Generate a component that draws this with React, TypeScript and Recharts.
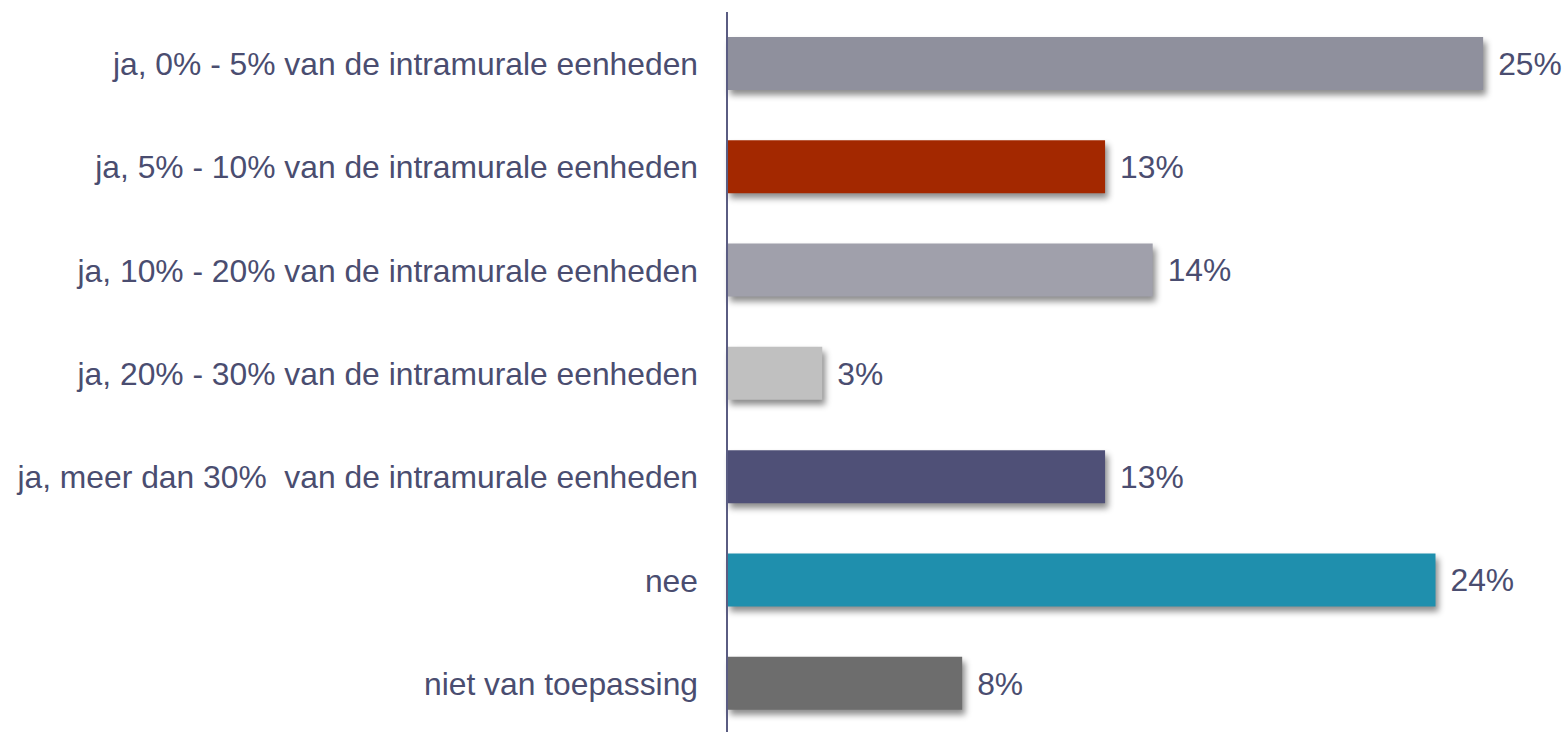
import React from 'react';
import { BarChart, Bar, XAxis, YAxis, Cell, LabelList } from 'recharts';

const categories = [
  'ja, 0% - 5% van de intramurale eenheden',
  'ja, 5% - 10% van de intramurale eenheden',
  'ja, 10% - 20% van de intramurale eenheden',
  'ja, 20% - 30% van de intramurale eenheden',
  'ja, meer dan 30%  van de intramurale eenheden',
  'nee',
  'niet van toepassing',
];
const values = [25.4, 12.7, 14.3, 3.2, 12.7, 23.8, 7.9];
const valueLabels = ['25%', '13%', '14%', '3%', '13%', '24%', '8%'];
const colors = ['#8F909D', '#A32800', '#A0A0AB', '#C0C0C0', '#4F5077', '#1F8FAD', '#6D6D6D'];

const data = categories.map((c, i) => ({ name: c, value: values[i], label: valueLabels[i] }));

const TEXT = '#4A4D70';
const SHADOW = 'drop-shadow(3px 5px 3px rgba(0,0,0,0.45))';

const CatTick = (props: any) => {
  const { x, y, payload } = props;
  return (
    <text
      x={x - 21}
      y={y}
      dy={11.5}
      textAnchor="end"
      fill={TEXT}
      fontSize={31.8}
      fontFamily="'Liberation Sans', Arial, sans-serif"
      style={{ whiteSpace: 'pre' }}
    >
      {payload.value}
    </text>
  );
};

export default function App() {
  return (
    <div style={{ width: 1567, height: 732, overflow: 'hidden' }}>
      <style>{'html,body{margin:0;padding:0;overflow:hidden;}'}</style>
      <BarChart
        width={1567}
        height={748}
        data={data}
        layout="vertical"
        margin={{ top: 12, right: 66, bottom: 13, left: 0 }}
        barSize={53}
      >
        <XAxis type="number" domain={[0, 26]} hide />
        <YAxis
          type="category"
          dataKey="name"
          width={727}
          tick={<CatTick />}
          tickLine={false}
          axisLine={{ stroke: '#5A5C82', strokeWidth: 2 }}
          interval={0}
        />
        <Bar dataKey="value" isAnimationActive={false}>
          {data.map((d, i) => (
            <Cell key={i} fill={colors[i]} style={{ filter: SHADOW }} />
          ))}
          <LabelList
            dataKey="label"
            position="right"
            offset={15}
            fill={TEXT}
            fontSize={31.8}
            fontFamily="'Liberation Sans', Arial, sans-serif"
          />
        </Bar>
      </BarChart>
    </div>
  );
}
